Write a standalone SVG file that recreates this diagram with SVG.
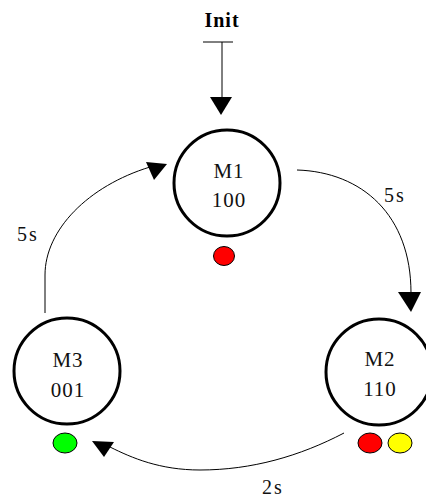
<svg xmlns="http://www.w3.org/2000/svg" width="426" height="497" viewBox="0 0 426 497">
  <style>
    .state { fill: #ffffff; stroke: #000000; stroke-width: 3; }
    .label { font-family: "Liberation Serif", "Times New Roman", serif; font-size: 21px; fill: #111111; text-anchor: middle; letter-spacing: 1px; }
    .edge-label { font-family: "Liberation Serif", "Times New Roman", serif; font-size: 20px; fill: #111111; letter-spacing: 2px; }
    .title { font-family: "Liberation Serif", "Times New Roman", serif; font-size: 20px; font-weight: bold; fill: #000000; text-anchor: middle; letter-spacing: 1px; }
    .edge { fill: none; stroke: #000000; stroke-width: 1; }
    .head { fill: #000000; stroke: none; }
    .lamp { stroke: #000000; stroke-width: 1; }
  </style>
  <rect width="426" height="497" fill="#ffffff"/>

  <!-- transitions -->
  <g id="connectors">
    <!-- initial entry -->
    <text class="title" x="222" y="27">Init</text>
    <line class="edge" x1="203" y1="42" x2="233" y2="42"/>
    <line class="edge" x1="222" y1="42" x2="222" y2="98"/>
    <polygon class="head" points="210,97 232,97 221,115"/>

    <!-- M1 -> M2 -->
    <path class="edge" d="M297,170 C362,172 411,215 411,293"/>
    <polygon class="head" points="398,292 421,292 411,312"/>
    <text class="edge-label" x="384" y="202">5s</text>

    <!-- M2 -> M3 -->
    <path class="edge" d="M344,433 C300,456 252,470 200,470 C160,470 132,458 110,447"/>
    <polygon class="head" points="92,441 114,442 104,457"/>
    <text class="edge-label" x="262" y="494">2s</text>

    <!-- M3 -> M1 -->
    <path class="edge" d="M45,313 L45,275 C45,230 88,186 150,167"/>
    <polygon class="head" points="146,162 167,164 154,180"/>
    <text class="edge-label" x="17" y="241">5s</text>
  </g>

  <g id="M1">
    <circle class="state" cx="227" cy="183" r="53"/>
    <text class="label" x="229" y="178">M1</text>
    <text class="label" x="229" y="207">100</text>
    <ellipse class="lamp" cx="224" cy="256" rx="10.5" ry="9.5" fill="#ff0000"/>
  </g>

  <g id="M2">
    <circle class="state" cx="379" cy="372" r="53"/>
    <text class="label" x="380" y="366">M2</text>
    <text class="label" x="380" y="396">110</text>
    <ellipse class="lamp" cx="370" cy="443" rx="12" ry="10" fill="#ff0000"/>
    <ellipse class="lamp" cx="400" cy="443" rx="12" ry="10" fill="#ffff00"/>
  </g>

  <g id="M3">
    <circle class="state" cx="67" cy="371" r="53"/>
    <text class="label" x="68" y="367">M3</text>
    <text class="label" x="68" y="397">001</text>
    <ellipse class="lamp" cx="65" cy="443" rx="12" ry="10" fill="#00ff00"/>
  </g>
</svg>
